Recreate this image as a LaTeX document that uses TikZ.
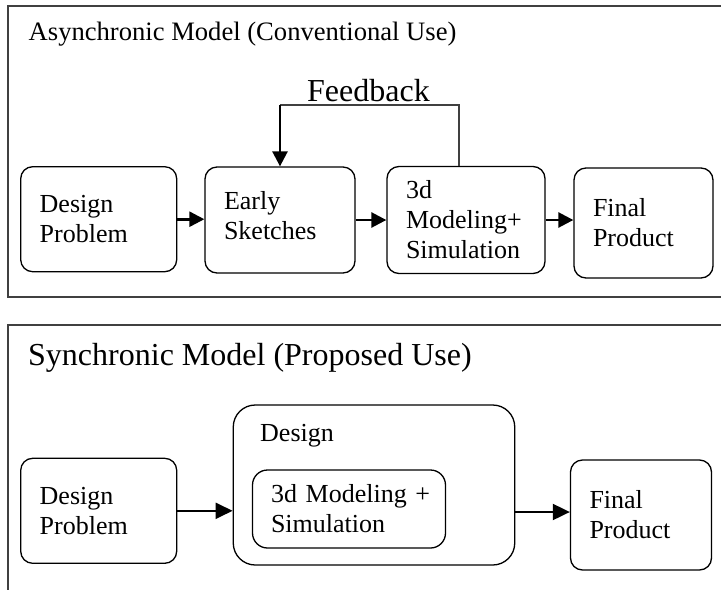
\documentclass[tikz,border=0pt]{standalone}
\usepackage{fontspec}
\setmainfont{Liberation Serif}
\usetikzlibrary{arrows.meta, calc}
\definecolor{frame}{gray}{0.25}

\begin{document}
\begin{tikzpicture}[x=1pt, y=-1pt,
    txt/.style={font=\fontsize{26}{30}\selectfont},
    big/.style={font=\fontsize{32}{36}\selectfont},
    lbl/.style={inner sep=0pt, anchor=base west},
    box/.style={draw, rounded corners=12pt, line width=1.3pt, inner sep=0pt, align=left, txt},
    thickarr/.style={line width=2.6pt, -{Triangle[length=15pt, width=15pt]}},
    thinarr/.style={line width=2pt, -{Triangle[length=17pt, width=16pt]}}]
  \useasboundingbox (0, 0) rectangle (721, 590);

  \draw [color=frame, line width=2pt] (721, 6) -- (8, 6) -- (8, 296.5) -- (721, 296.5);
  \draw [color=frame, line width=2pt] (721, 325) -- (8, 325) -- (8, 590);

  \node [lbl, font=\fontsize{26.6}{30}\selectfont] (asyn) at (28.5, 40) {Asynchronic Model (Conventional Use)};
  \node [box, minimum width=156, minimum height=105, text width=118] (prob1) at (98.7, 219.2) {Design\\Problem};
  \node [box, minimum width=150, minimum height=106, text width=112, text depth=40pt] (sketch) at (280, 220) {Early\\Sketches};
  \node [box, minimum width=158, minimum height=107, text width=120] (model) at (466, 220) {3d\\Modeling+\\Simulation};
  \node [box, minimum width=139, minimum height=110, text width=101] (final1) at (643.5, 223) {Final\\Product};

  \draw [thickarr] (prob1.east) -- (prob1.east -| sketch.west);
  \draw [thickarr] (sketch.east) -- (sketch.east -| model.west);
  \draw [thickarr] (model.east) -- (model.east -| final1.west);

  \coordinate (fb) at (368.5, 105);
  \draw [color=frame, line width=1.2pt] ($(model.north) + (-7, 0)$) |- (sketch.north |- fb);
  \draw [thickarr] (sketch.north |- fb) -- (sketch.north);
  \node [lbl, big, anchor=base] (fblabel) at (368.5, 101) {Feedback};

  \node [lbl, big] (syn) at (28, 365) {Synchronic Model (Proposed Use)};
  \node [box, minimum width=156, minimum height=105, text width=118] (prob2) at (98.7, 510.8) {Design\\Problem};
  \node [box, rounded corners=22pt, minimum width=281.5, minimum height=160] (design) at (374, 485) {};
  \node [lbl, txt] (designlabel) at (260, 441.7) {Design};
  \node [box, rounded corners=15pt, minimum width=193, minimum height=78, text width=156] (inner) at (349, 509) {\mbox{3d Modeling +}\\Simulation};
  \node [box, minimum width=141, minimum height=110, text width=103] (final2) at (641, 515) {Final\\Product};

  \draw [thinarr] (prob2.east) -- (prob2.east -| design.west);
  \draw [thinarr] ($(final2.west -| design.east) + (0, -3)$) -- ($(final2.west) + (0, -3)$);

\end{tikzpicture}
\end{document}
